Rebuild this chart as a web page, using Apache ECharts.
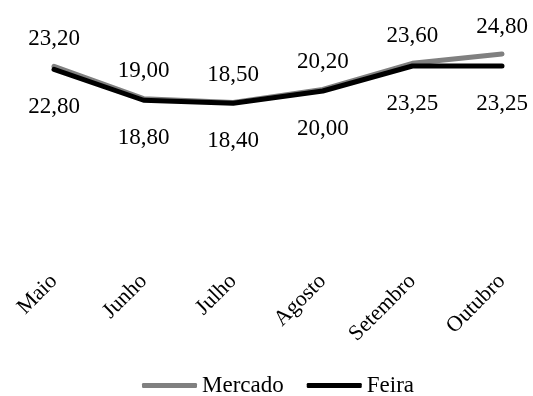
<!DOCTYPE html>
<html>
<head>
<meta charset="utf-8">
<script src="https://cdn.jsdelivr.net/npm/echarts@6/dist/echarts.min.js"></script>
<style>
  html, body { margin: 0; padding: 0; background: #fff; }
  #chart { width: 533px; height: 396px; }
</style>
</head>
<body>
<div id="chart"></div>
<script>
// Monthly prices: supermarket vs. street market
const months = ['Maio', 'Junho', 'Julho', 'Agosto', 'Setembro', 'Outubro'];
const mercado = [23.20, 19.00, 18.50, 20.20, 23.60, 24.80];
const feira = [22.80, 18.80, 18.40, 20.00, 23.25, 23.25];

const FONT = '"Liberation Serif", "Times New Roman", serif';
const fmt = p => p.value.toFixed(2).replace('.', ',');

const chart = echarts.init(document.getElementById('chart'), null, { renderer: 'canvas' });
chart.setOption({
  animation: false,
  textStyle: { fontFamily: FONT },
  grid: { left: 54, right: 31, top: 14, bottom: 151, containLabel: false },
  legend: {
    top: 369,
    left: 137,
    icon: 'roundRect',
    itemWidth: 55,
    itemHeight: 5,
    itemGap: 23,
    textStyle: { fontFamily: FONT, fontSize: 23, color: '#000' },
    data: ['Mercado', 'Feira']
  },
  xAxis: {
    type: 'category',
    data: months,
    boundaryGap: false,
    axisLine: { show: false },
    axisTick: { show: false },
    axisLabel: {
      rotate: 45,
      margin: 33,
      interval: 0,
      fontFamily: FONT,
      fontSize: 22,
      color: '#000'
    }
  },
  yAxis: {
    type: 'value',
    min: 0,
    max: 30,
    show: false
  },
  series: [
    {
      name: 'Mercado',
      type: 'line',
      data: mercado,
      symbol: 'circle',
      symbolSize: 0.1,
      lineStyle: { color: '#808080', width: 5, cap: 'round', join: 'round' },
      itemStyle: { color: '#808080' },
      label: {
        show: true,
        position: 'top',
        distance: 16,
        formatter: fmt,
        fontFamily: FONT,
        fontSize: 23,
        color: '#000'
      },
      z: 2
    },
    {
      name: 'Feira',
      type: 'line',
      data: feira,
      symbol: 'circle',
      symbolSize: 0.1,
      lineStyle: { color: '#000', width: 5, cap: 'round', join: 'round' },
      itemStyle: { color: '#000' },
      label: {
        show: true,
        position: 'bottom',
        distance: 26,
        formatter: fmt,
        fontFamily: FONT,
        fontSize: 23,
        color: '#000'
      },
      z: 3
    }
  ]
});
</script>
</body>
</html>
